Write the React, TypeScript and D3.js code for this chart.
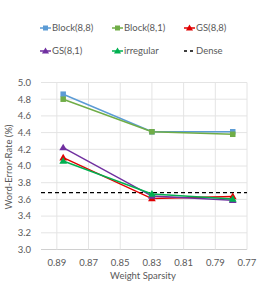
import React from "react";
import * as d3 from "d3";

const sparsity = [0.886, 0.83, 0.779];
const seriesNames = ["Block(8,8)", "Block(8,1)", "GS(8,8)", "GS(8,1)", "irregular"];
const block88 = [4.86, 4.41, 4.41];
const block81 = [4.8, 4.41, 4.38];
const gs88 = [4.1, 3.61, 3.635];
const gs81 = [4.22, 3.64, 3.59];
const irregular = [4.06, 3.665, 3.605];
const dense = 3.68;
const xTicks = [0.89, 0.87, 0.85, 0.83, 0.81, 0.79, 0.77];
const yTicks = [3.0, 3.2, 3.4, 3.6, 3.8, 4.0, 4.2, 4.4, 4.6, 4.8, 5.0];

const colors = ["#5B9BD5", "#70AD47", "#E00000", "#7030A0", "#00B050"];
const markers = ["square", "square", "triangle", "triangle", "triangle"];
const values = [block88, block81, gs88, gs81, irregular];

const FONT = "Lato, 'Liberation Sans', sans-serif";
const TXT = "#595959";

export default function App() {
  const W = 258, H = 284;
  const x = d3.scaleLinear().domain([0.9, 0.77]).range([41, 247]);
  const y = d3.scaleLinear().domain([3.0, 5.0]).range([249.5, 82.5]);
  const line = d3.line<number>().x((_, i) => x(sparsity[i])).y((v) => y(v));

  const marker = (kind: string, cx: number, cy: number, color: string, key: string) => {
    if (kind === "square") {
      return <rect key={key} x={cx - 2.75} y={cy - 2.75} width={5.5} height={5.5} fill={color} />;
    }
    const s = d3.symbol(d3.symbolTriangle, 26)();
    return <path key={key} d={s as string} transform={`translate(${cx},${cy + 0.5})`} fill={color} />;
  };

  const legendPos = [
    [40, 28], [112, 28], [184, 28],
    [40, 51], [112, 51], [184, 51],
  ];

  return (
    <svg width={W} height={H} style={{ position: "absolute", left: 0, top: 0, fontFamily: FONT }}>
      <rect width={W} height={H} fill="#fff" />
      {yTicks.map((t) => (
        <line key={"gy" + t} x1={41} x2={247} y1={y(t)} y2={y(t)} stroke={t === 3.0 ? "#D0D0D0" : "#E4E4E4"} strokeWidth={1} />
      ))}
      {xTicks.map((t) => (
        <line key={"gx" + t} x1={x(t)} x2={x(t)} y1={y(5.0)} y2={y(3.0)} stroke="#E4E4E4" strokeWidth={1} />
      ))}
      {yTicks.map((t) => (
        <text key={"ty" + t} x={31} y={y(t)} dy="0.35em" textAnchor="end" fontSize={9.5} fill={TXT}>
          {t.toFixed(1)}
        </text>
      ))}
      {xTicks.map((t) => (
        <text key={"tx" + t} x={x(t)} y={263} dy="0.35em" textAnchor="middle" fontSize={9.5} fill={TXT}>
          {t.toFixed(2)}
        </text>
      ))}
      <text x={143} y={276} dy="0.35em" textAnchor="middle" fontSize={9.5} fill={TXT}>
        Weight Sparsity
      </text>
      <text transform={`translate(9,167) rotate(-90)`} dy="0.35em" textAnchor="middle" fontSize={9.5} fill={TXT}>
        Word-Error-Rate (%)
      </text>
      <line x1={41} x2={247} y1={y(dense)} y2={y(dense)} stroke="#000" strokeWidth={1.3} strokeDasharray="4,3" />
      {values.map((vals, si) => (
        <g key={"s" + si}>
          <path d={line(vals) as string} fill="none" stroke={colors[si]} strokeWidth={1.5} />
          {vals.map((v, i) => marker(markers[si], x(sparsity[i]), y(v), colors[si], `m${si}-${i}`))}
        </g>
      ))}
      {seriesNames.map((n, si) => {
        const [lx, ly] = legendPos[si];
        return (
          <g key={"l" + si}>
            <line x1={lx} x2={lx + 11} y1={ly} y2={ly} stroke={colors[si]} strokeWidth={1.5} />
            {markers[si] === "square" ? (
              <rect x={lx + 3} y={ly - 2.5} width={5} height={5} fill={colors[si]} />
            ) : (
              <path d={d3.symbol(d3.symbolTriangle, 22)() as string} transform={`translate(${lx + 5.5},${ly + 0.5})`} fill={colors[si]} />
            )}
            <text x={lx + 12} y={ly} dy="0.35em" fontSize={9.5} fill={TXT}>{n}</text>
          </g>
        );
      })}
      <g>
        <line x1={184} x2={195} y1={51} y2={51} stroke="#000" strokeWidth={1.3} strokeDasharray="3,3" />
        <text x={196} y={51} dy="0.35em" fontSize={9.5} fill={TXT}>Dense</text>
      </g>
    </svg>
  );
}
